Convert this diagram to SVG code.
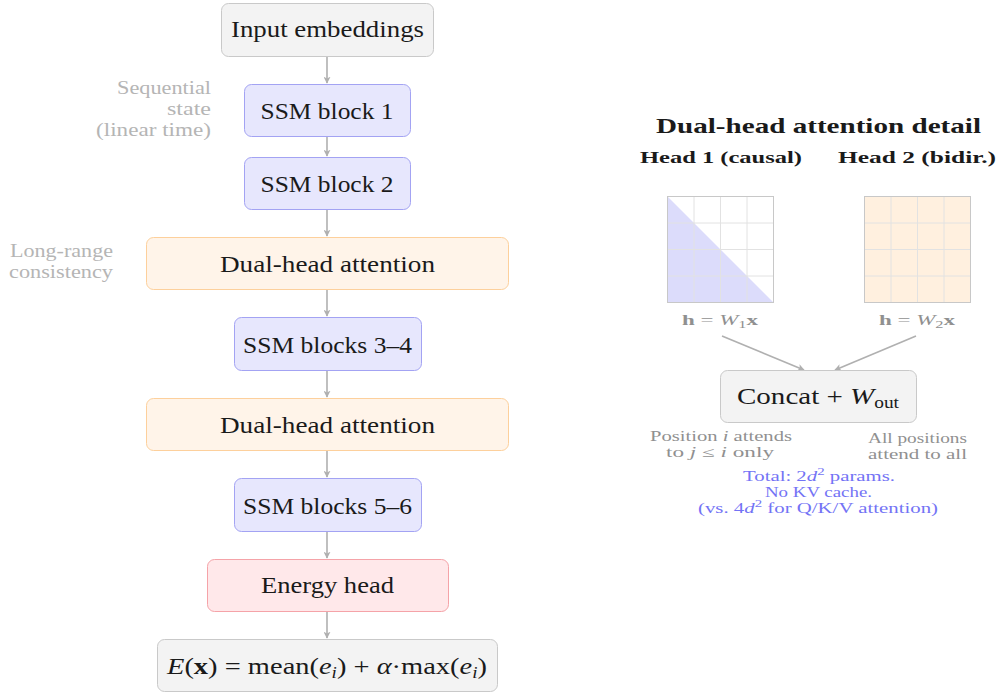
<svg xmlns="http://www.w3.org/2000/svg" width="998" height="694" viewBox="0 0 998 694">
<defs>
<marker id="ah" viewBox="0 0 10 10" refX="9" refY="5" markerWidth="7" markerHeight="7" markerUnits="userSpaceOnUse" orient="auto">
<path d="M0,0 L10,5 L0,10 L2.5,5 z" fill="#b0b0b0"/>
</marker>
<style>
text{font-family:"Liberation Serif","Times New Roman",serif;}
.lbl{font-size:24px;fill:#1a1a1a;text-anchor:middle;}
.gray{fill:#f3f3f3;stroke:#c9c9c9;stroke-width:1;}
.ssm{fill:#e7e7fd;stroke:#a3a3f3;stroke-width:1;}
.att{fill:#fff4e9;stroke:#fdd09c;stroke-width:1;}
.eng{fill:#ffe8ea;stroke:#f5a3a8;stroke-width:1;}
.note{font-size:18px;fill:#b5b5b5;text-anchor:end;}
.conn line{stroke:#b0b0b0;stroke-width:1.6;marker-end:url(#ah);}
.bold{font-weight:bold;fill:#1a1a1a;text-anchor:middle;}
.small{font-size:14px;fill:#909090;text-anchor:middle;}
.blue{font-size:14px;fill:#7373f5;text-anchor:middle;}
.grid line{stroke:#e2e2e2;stroke-width:1;}
</style>
</defs>
<rect width="998" height="694" fill="#ffffff"/>

<g id="connectors" class="conn">
<line x1="327" y1="57" x2="327" y2="83"/>
<line x1="327" y1="137" x2="327" y2="156"/>
<line x1="327" y1="210" x2="327" y2="236"/>
<line x1="327" y1="290" x2="327" y2="316"/>
<line x1="327" y1="371" x2="327" y2="397"/>
<line x1="327" y1="451" x2="327" y2="477"/>
<line x1="327" y1="532" x2="327" y2="558"/>
<line x1="327" y1="612" x2="327" y2="638"/>
<line x1="722" y1="336" x2="804" y2="370"/>
<line x1="916" y1="336" x2="835" y2="370"/>
</g>

<g id="input">
<rect class="gray" x="221.5" y="3.5" width="212" height="53" rx="7"/>
<text class="lbl" x="327.5" y="37" textLength="193" lengthAdjust="spacingAndGlyphs">Input embeddings</text>
</g>
<g id="ssm1">
<rect class="ssm" x="244.5" y="84.5" width="166" height="52" rx="7"/>
<text class="lbl" x="327" y="119" textLength="133" lengthAdjust="spacingAndGlyphs">SSM block 1</text>
</g>
<g id="ssm2">
<rect class="ssm" x="244.5" y="157.5" width="166" height="52" rx="7"/>
<text class="lbl" x="327" y="192" textLength="133" lengthAdjust="spacingAndGlyphs">SSM block 2</text>
</g>
<g id="att1">
<rect class="att" x="146.5" y="237.5" width="362" height="52" rx="7"/>
<text class="lbl" x="327.5" y="272" textLength="215" lengthAdjust="spacingAndGlyphs">Dual-head attention</text>
</g>
<g id="ssm34">
<rect class="ssm" x="234.5" y="317.5" width="187" height="53" rx="7"/>
<text class="lbl" x="327.5" y="353" textLength="169" lengthAdjust="spacingAndGlyphs">SSM blocks 3–4</text>
</g>
<g id="att2">
<rect class="att" x="146.5" y="398.5" width="362" height="52" rx="7"/>
<text class="lbl" x="327.5" y="433" textLength="215" lengthAdjust="spacingAndGlyphs">Dual-head attention</text>
</g>
<g id="ssm56">
<rect class="ssm" x="234.5" y="478.5" width="187" height="53" rx="7"/>
<text class="lbl" x="327.5" y="514" textLength="169" lengthAdjust="spacingAndGlyphs">SSM blocks 5–6</text>
</g>
<g id="energy">
<rect class="eng" x="207.5" y="559.5" width="241" height="52" rx="7"/>
<text class="lbl" x="327.5" y="593" textLength="133" lengthAdjust="spacingAndGlyphs">Energy head</text>
</g>
<g id="energy-formula">
<rect class="gray" x="157.5" y="639.5" width="340" height="52" rx="7"/>
<text class="lbl" x="327" y="674" textLength="320" lengthAdjust="spacingAndGlyphs"><tspan font-style="italic">E</tspan>(<tspan font-weight="bold">x</tspan>) = mean(<tspan font-style="italic">e</tspan><tspan font-style="italic" font-size="16" dy="4">i</tspan><tspan dy="-4">) + </tspan><tspan font-style="italic">α</tspan>·max(<tspan font-style="italic">e</tspan><tspan font-style="italic" font-size="16" dy="4">i</tspan><tspan dy="-4">)</tspan></text>
</g>

<g id="note-sequential">
<text class="note" x="211" y="94" textLength="94" lengthAdjust="spacingAndGlyphs">Sequential</text>
<text class="note" x="211" y="115" textLength="44" lengthAdjust="spacingAndGlyphs">state</text>
<text class="note" x="211" y="136" textLength="115" lengthAdjust="spacingAndGlyphs">(linear time)</text>
</g>
<g id="note-longrange">
<text class="note" x="113" y="257" textLength="103" lengthAdjust="spacingAndGlyphs">Long-range</text>
<text class="note" x="113" y="278" textLength="104" lengthAdjust="spacingAndGlyphs">consistency</text>
</g>

<g id="detail-title">
<text class="bold" x="818.5" y="133" font-size="21" textLength="325" lengthAdjust="spacingAndGlyphs">Dual-head attention detail</text>
<text class="bold" x="721" y="163" font-size="17" textLength="162" lengthAdjust="spacingAndGlyphs">Head 1 (causal)</text>
<text class="bold" x="917" y="163" font-size="17" textLength="158" lengthAdjust="spacingAndGlyphs">Head 2 (bidir.)</text>
</g>

<g id="head1-matrix">
<rect x="667.5" y="196.5" width="106" height="106" fill="#ffffff"/>
<path d="M667.5,196.5 L773.5,302.5 L667.5,302.5 Z" fill="#dcdcfb"/>
<g class="grid">
<line x1="694" y1="196.5" x2="694" y2="302.5"/>
<line x1="720.5" y1="196.5" x2="720.5" y2="302.5"/>
<line x1="747" y1="196.5" x2="747" y2="302.5"/>
<line x1="667.5" y1="223" x2="773.5" y2="223"/>
<line x1="667.5" y1="249.5" x2="773.5" y2="249.5"/>
<line x1="667.5" y1="276" x2="773.5" y2="276"/>
</g>
<rect x="667.5" y="196.5" width="106" height="106" fill="none" stroke="#c8c8c8" stroke-width="1"/>
<text class="small" x="720" y="325" textLength="76" lengthAdjust="spacingAndGlyphs"><tspan font-weight="bold">h</tspan> = <tspan font-style="italic">W</tspan><tspan font-size="10" dy="3">1</tspan><tspan dy="-3" font-weight="bold">x</tspan></text>
</g>

<g id="head2-matrix">
<rect x="864.5" y="196.5" width="106" height="106" fill="#fff0df"/>
<g class="grid">
<line x1="891" y1="196.5" x2="891" y2="302.5"/>
<line x1="917.5" y1="196.5" x2="917.5" y2="302.5"/>
<line x1="944" y1="196.5" x2="944" y2="302.5"/>
<line x1="864.5" y1="223" x2="970.5" y2="223"/>
<line x1="864.5" y1="249.5" x2="970.5" y2="249.5"/>
<line x1="864.5" y1="276" x2="970.5" y2="276"/>
</g>
<rect x="864.5" y="196.5" width="106" height="106" fill="none" stroke="#c8c8c8" stroke-width="1"/>
<text class="small" x="917" y="325" textLength="76" lengthAdjust="spacingAndGlyphs"><tspan font-weight="bold">h</tspan> = <tspan font-style="italic">W</tspan><tspan font-size="10" dy="3">2</tspan><tspan dy="-3" font-weight="bold">x</tspan></text>
</g>

<g id="concat">
<rect class="gray" x="720.5" y="370.5" width="196" height="52" rx="7"/>
<text class="lbl" x="818" y="404" textLength="162" lengthAdjust="spacingAndGlyphs">Concat + <tspan font-style="italic">W</tspan><tspan font-size="16" dy="4">out</tspan></text>
</g>

<g id="note-head1">
<text class="small" x="721" y="441" textLength="142" lengthAdjust="spacingAndGlyphs">Position <tspan font-style="italic">i</tspan> attends</text>
<text class="small" x="720" y="457" textLength="108" lengthAdjust="spacingAndGlyphs">to <tspan font-style="italic">j</tspan>  ≤  <tspan font-style="italic">i</tspan> only</text>
</g>
<g id="note-head2">
<text class="small" x="917.5" y="443" textLength="99" lengthAdjust="spacingAndGlyphs">All positions</text>
<text class="small" x="917.5" y="459" textLength="99" lengthAdjust="spacingAndGlyphs">attend to all</text>
</g>
<g id="note-total">
<text class="blue" x="819" y="481" textLength="152" lengthAdjust="spacingAndGlyphs">Total: 2<tspan font-style="italic">d</tspan><tspan font-size="10" dy="-6">2</tspan><tspan dy="6"> params.</tspan></text>
<text class="blue" x="818.5" y="497" textLength="107" lengthAdjust="spacingAndGlyphs">No KV cache.</text>
<text class="blue" x="818" y="513" textLength="240" lengthAdjust="spacingAndGlyphs">(vs. 4<tspan font-style="italic">d</tspan><tspan font-size="10" dy="-6">2</tspan><tspan dy="6"> for Q/K/V attention)</tspan></text>
</g>
</svg>
